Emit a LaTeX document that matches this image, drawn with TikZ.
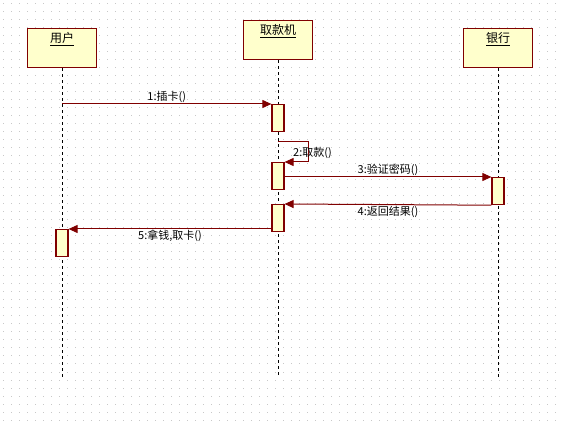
\documentclass[tikz,border=0pt]{standalone}
\usepackage{fontspec}
\setmainfont{Noto Sans CJK SC}
\usepackage{tikz}
\usetikzlibrary{calc}
\usetikzlibrary{arrows.meta}
\usetikzlibrary{positioning}
\definecolor{umlred}{RGB}{128, 0, 0}
\definecolor{umlfill}{RGB}{255, 255, 204}
\definecolor{griddot}{RGB}{200, 200, 200}

\begin{document}
\begin{tikzpicture}[x=1pt, y=-1pt,
        header/.style={draw=umlred, fill=umlfill, line width=1.2pt, minimum width=69pt,
                       text height=13pt, text depth=24pt, inner ysep=1pt, anchor=north,
                       font=\fontsize{12}{14}\selectfont},
        act/.style={draw=umlred, fill=umlfill, line width=1.2pt, minimum width=12pt,
                    minimum height=27pt, inner sep=0pt, anchor=north},
        msg/.style={color=umlred, line width=1pt, -{Triangle[length=9pt, width=8pt]}},
        lifeline/.style={dashed, line width=1pt},
        lbl/.style={color=black, font=\fontsize{11}{13}\selectfont, inner sep=1pt}]
    \useasboundingbox (0,0) rectangle (562,427);
    % Dotted background
    \foreach \y in {4,12,...,428}
        \draw[griddot, line width=1pt, dash pattern=on 1pt off 7pt] (3,\y) -- (562,\y);
    % Objects
    \node[header] (user) at ( 62, 28) {\underline{用户}};
    \node[header] (atm)  at (278, 20) {\underline{取款机}};
    \node[header] (bank) at (498, 28) {\underline{银行}};
    % Lifelines
    \coordinate (userend) at ( 62, 378);
    \coordinate (atmend)  at (278, 375);
    \coordinate (bankend) at (498, 379);
    \draw[lifeline] (user.south) -- (userend);
    \draw[lifeline] (atm.south)  -- (atmend);
    \draw[lifeline] (bank.south) -- (bankend);
    % Activations
    \node[act] (atmA)  at (atm.south  |- 0,104) {};
    \node[act] (atmB)  at (atm.south  |- 0,162) {};
    \node[act] (bankA) at (bank.south |- 0,177) {};
    \node[act] (atmC)  at (atm.south  |- 0,204) {};
    \node[act] (userA) at (user.south |- 0,229) {};
    % Messages
    \draw[msg] (user.south |- atmA.north) -- (atmA.north west)
         node[lbl, midway, above] (m1) {1:插卡()};
    \draw[msg] ($(atmB.north)+(0,-20)$) -- ++(30,0) -- ++(0,20) -- (atmB.north east);
    \node[lbl, anchor=west] (m2) at ($(atmB.north)+(14,-9)$) {2:取款()};
    \draw[msg] (atmB.east |- bankA.north) -- (bankA.north west)
         node[lbl, midway, above] (m3) {3:验证密码()};
    \draw[msg] (bankA.south west) -- (atmC.north east)
         node[lbl, midway, below] (m4) {4:返回结果()};
    \draw[msg] (atmC.west |- userA.north) -- (userA.north east)
         node[lbl, midway, below] (m5) {5:拿钱,取卡()};
\end{tikzpicture}
\end{document}
